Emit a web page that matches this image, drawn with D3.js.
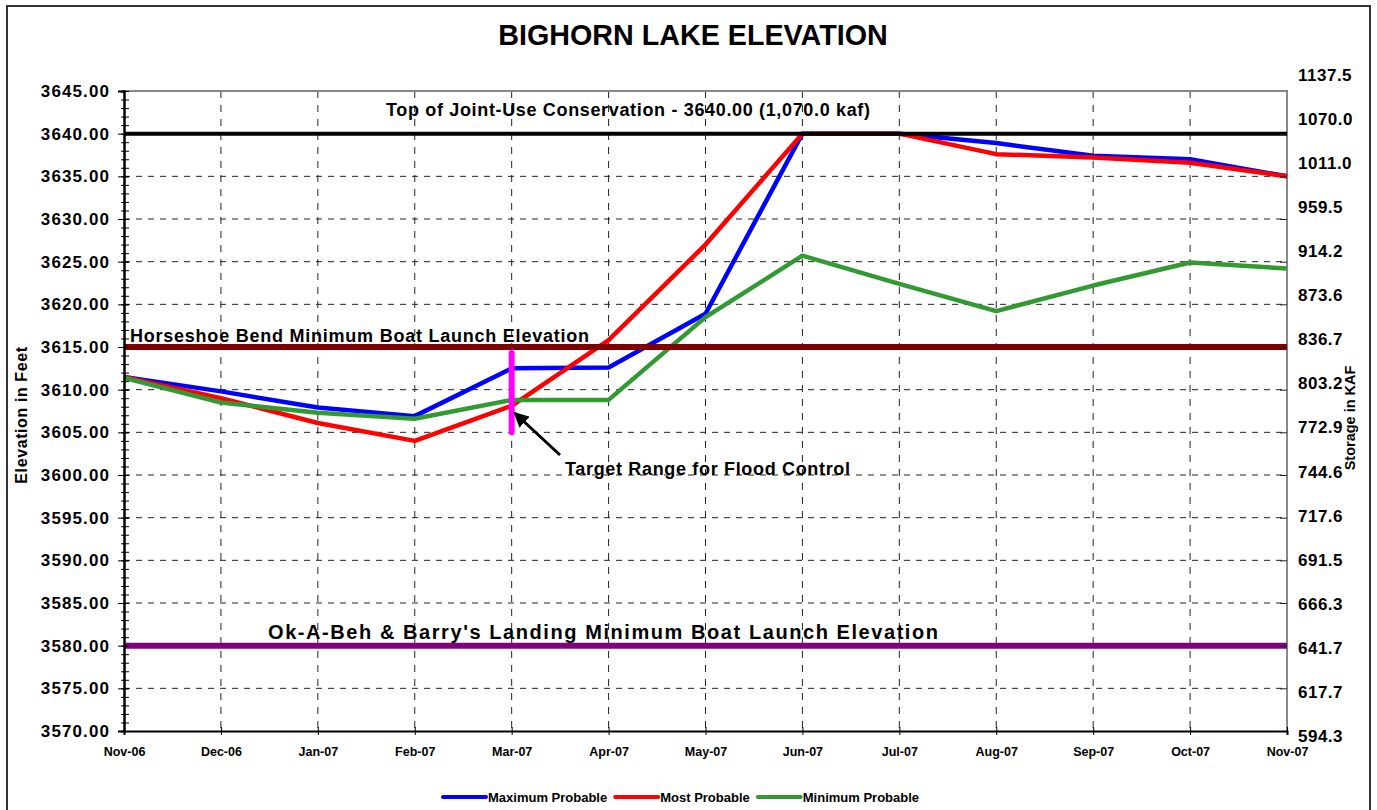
<!DOCTYPE html>
<html>
<head>
<meta charset="utf-8">
<script src="https://cdn.jsdelivr.net/npm/d3@7"></script>
<style>
  body { margin: 0; background: #fff; }
  svg text { font-family: "Liberation Sans", Arial, sans-serif; font-weight: bold; fill: #000; }
</style>
</head>
<body>
<svg width="1377" height="810"></svg>
<script>
// data
const months = ["Nov-06", "Dec-06", "Jan-07", "Feb-07", "Mar-07", "Apr-07", "May-07", "Jun-07", "Jul-07", "Aug-07", "Sep-07", "Oct-07", "Nov-07"]
const maxProbable = [3611.5, 3609.8, 3607.9, 3606.9, 3612.5, 3612.6, 3618.9, 3640.0, 3640.0, 3638.9, 3637.4, 3637.0, 3635.0]
const mostProbable = [3611.5, 3609.0, 3606.1, 3604.0, 3608.1, 3615.8, 3627.0, 3640.0, 3640.0, 3637.6, 3637.2, 3636.6, 3635.0]
const minProbable = [3611.4, 3608.5, 3607.3, 3606.6, 3608.8, 3608.8, 3618.5, 3625.7, 3622.4, 3619.2, 3622.2, 3624.9, 3624.2]
const seriesNames = ["Maximum Probable", "Most Probable", "Minimum Probable"]

const elevationTicks = [3570, 3575, 3580, 3585, 3590, 3595, 3600, 3605, 3610, 3615, 3620, 3625, 3630, 3635, 3640, 3645]
const storageLabels = ["594.3", "617.7", "641.7", "666.3", "691.5", "717.6", "744.6", "772.9", "803.2", "836.7", "873.6", "914.2", "959.5", "1011.0", "1070.0", "1137.5"]

const refElevations = [3640, 3615, 3580]
const refLabels = ["Top of Joint-Use Conservation - 3640.00 (1,070.0 kaf)", "Horseshoe Bend Minimum Boat Launch Elevation", "Ok-A-Beh & Barry's Landing Minimum Boat Launch Elevation"]

const targetMonth = "Mar-07"
const targetRange = [3605.0, 3614.3]
const targetLabel = "Target Range for Flood Control"

// layout
const plotLeft = 124, plotRight = 1287, plotTop = 91, plotBottom = 731

var svg = d3.select("svg")

var x = d3.scalePoint().domain(months).range([plotLeft, plotRight])
var y = d3.scaleLinear().domain([3570, 3645]).range([plotBottom, plotTop])
// storage labels sit slightly spread compared to the gridlines
var yStorage = d3.scaleLinear().domain([3570, 3645]).range([736, 75])

// outer frame
svg.append("rect")
    .attr("x", 7).attr("y", 6)
    .attr("width", 1363).attr("height", 830)
    .attr("fill", "#fff")
    .attr("stroke", "#333")
    .attr("stroke-width", 2)

svg.append("text")
    .attr("x", 693).attr("y", 45)
    .attr("text-anchor", "middle")
    .style("font-size", "28.7px")
    .text("BIGHORN LAKE ELEVATION")

// grid
svg.append("g")
    .selectAll("line")
    .data(elevationTicks.slice(1, -1))
    .join("line")
    .attr("x1", plotLeft).attr("x2", plotRight)
    .attr("y1", d => y(d)).attr("y2", d => y(d))
    .attr("stroke", "#222")
    .attr("stroke-width", 1)
    .attr("stroke-dasharray", "6,6")

svg.append("g")
    .selectAll("line")
    .data(months.slice(1, -1))
    .join("line")
    .attr("x1", d => x(d)).attr("x2", d => x(d))
    .attr("y1", plotTop).attr("y2", plotBottom)
    .attr("stroke", "#222")
    .attr("stroke-width", 1)
    .attr("stroke-dasharray", "7,7")

// plot frame top / right in grey
svg.append("path")
    .attr("d", `M${plotLeft},${plotTop}H${plotRight}V${plotBottom}`)
    .attr("fill", "none")
    .attr("stroke", "#888")
    .attr("stroke-width", 2)

// series
var line = d3.line()
    .x((d, i) => x(months[i]))
    .y(d => y(d))

var seriesColors = ["#0000ff", "#ff0000", "#339933"]
var allSeries = [maxProbable, mostProbable, minProbable]

svg.append("g")
    .selectAll("path")
    .data(allSeries)
    .join("path")
    .attr("d", line)
    .attr("fill", "none")
    .attr("stroke", (d, i) => seriesColors[i])
    .attr("stroke-width", 4.5)
    .attr("stroke-linejoin", "round")

// reference lines
var refColors = ["#000000", "#800000", "#800080"]
var refWidths = [4, 6, 6]

svg.append("g")
    .selectAll("line")
    .data(refElevations)
    .join("line")
    .attr("x1", plotLeft).attr("x2", plotRight)
    .attr("y1", d => y(d)).attr("y2", d => y(d))
    .attr("stroke", (d, i) => refColors[i])
    .attr("stroke-width", (d, i) => refWidths[i])

var refText = svg.append("g")
    .style("font-size", "18px")

refText.append("text")
    .attr("x", 386).attr("y", y(refElevations[0]) - 18)
    .attr("textLength", 484)
    .text(refLabels[0])

refText.append("text")
    .attr("x", 130).attr("y", y(refElevations[1]) - 5)
    .attr("textLength", 459)
    .text(refLabels[1])

refText.append("text")
    .attr("x", 268).attr("y", y(refElevations[2]) - 7)
    .attr("textLength", 670)
    .style("font-size", "20px")
    .text(refLabels[2])

// target range marker
svg.append("line")
    .attr("x1", x(targetMonth)).attr("x2", x(targetMonth))
    .attr("y1", y(targetRange[1])).attr("y2", y(targetRange[0]))
    .attr("stroke", "#ff00ff")
    .attr("stroke-width", 6)
    .attr("stroke-linecap", "round")

svg.append("defs")
    .append("marker")
    .attr("id", "arrow")
    .attr("viewBox", "0 0 10 10")
    .attr("refX", 9).attr("refY", 5)
    .attr("markerWidth", 5).attr("markerHeight", 5)
    .attr("orient", "auto")
    .append("path")
    .attr("d", "M0,0L10,5L0,10z")
    .attr("fill", "#000")

svg.append("line")
    .attr("x1", 560).attr("y1", 455)
    .attr("x2", x(targetMonth) + 3).attr("y2", 413)
    .attr("stroke", "#000")
    .attr("stroke-width", 3)
    .attr("marker-end", "url(#arrow)")

svg.append("text")
    .attr("x", 565).attr("y", 475)
    .attr("textLength", 285)
    .style("font-size", "18px")
    .text(targetLabel)

// left axis
var leftAxis = svg.append("g")
    .attr("transform", `translate(${plotLeft},0)`)
    .call(d3.axisLeft(y).tickValues(d3.range(3570, 3646, 1)).tickSize(3).tickFormat(""))
leftAxis.selectAll(".tick line").attr("x1", 5)

var leftMajor = svg.append("g")
    .attr("transform", `translate(${plotLeft},0)`)
    .call(d3.axisLeft(y).tickValues(elevationTicks).tickSize(6).tickPadding(9).tickFormat(d3.format(".2f")))
leftMajor.selectAll(".tick line").attr("x1", 5)
leftMajor.selectAll("text")
    .style("font-size", "17px")
    .style("letter-spacing", "1.1px")
    .attr("dx", "1px")

svg.selectAll(".domain").attr("stroke", "#000").attr("stroke-width", 2)

// bottom axis
var bottomAxis = svg.append("g")
    .attr("transform", `translate(0,${plotBottom})`)
    .call(d3.axisBottom(x).tickSize(4).tickPadding(12))
bottomAxis.select(".domain").attr("stroke", "#000").attr("stroke-width", 2)
bottomAxis.selectAll(".tick line").attr("y1", -4)
bottomAxis.selectAll("text").style("font-size", "12.5px")

// right axis: inner ticks + storage labels
var rightTicks = svg.append("g")
    .attr("transform", `translate(${plotRight},0)`)
    .call(d3.axisLeft(y).tickValues(elevationTicks.slice(1, -1)).tickSize(7).tickFormat(""))
rightTicks.select(".domain").remove()
rightTicks.selectAll(".tick line").attr("stroke", "#222")

var rightLabels = svg.append("g")
    .attr("transform", `translate(${plotRight},0)`)
    .call(d3.axisRight(yStorage).tickValues(elevationTicks).tickSize(0).tickPadding(11)
        .tickFormat((d, i) => storageLabels[i]))
rightLabels.select(".domain").remove()
rightLabels.selectAll("text")
    .style("font-size", "17px")
    .style("letter-spacing", "0.5px")

// axis titles
svg.append("text")
    .attr("transform", "translate(27,415) rotate(-90)")
    .attr("text-anchor", "middle")
    .style("font-size", "16px")
    .style("letter-spacing", "0.6px")
    .text("Elevation in Feet")

svg.append("text")
    .attr("transform", "translate(1355,418) rotate(-90)")
    .attr("text-anchor", "middle")
    .style("font-size", "14.5px")
    .text("Storage in KAF")

// legend
var legend = svg.append("g")
    .attr("transform", "translate(443,797)")
    .style("font-size", "13px")

var lx = 0
seriesNames.forEach((name, i) => {
    var item = legend.append("g").attr("transform", `translate(${lx},0)`)
    item.append("line")
        .attr("x1", 0).attr("x2", 43)
        .attr("stroke", seriesColors[i])
        .attr("stroke-width", 4)
        .attr("stroke-linecap", "round")
    var t = item.append("text")
        .attr("x", 45).attr("y", 5)
        .text(name)
    lx += 45 + t.node().getComputedTextLength() + 8
})
</script>
</body>
</html>
